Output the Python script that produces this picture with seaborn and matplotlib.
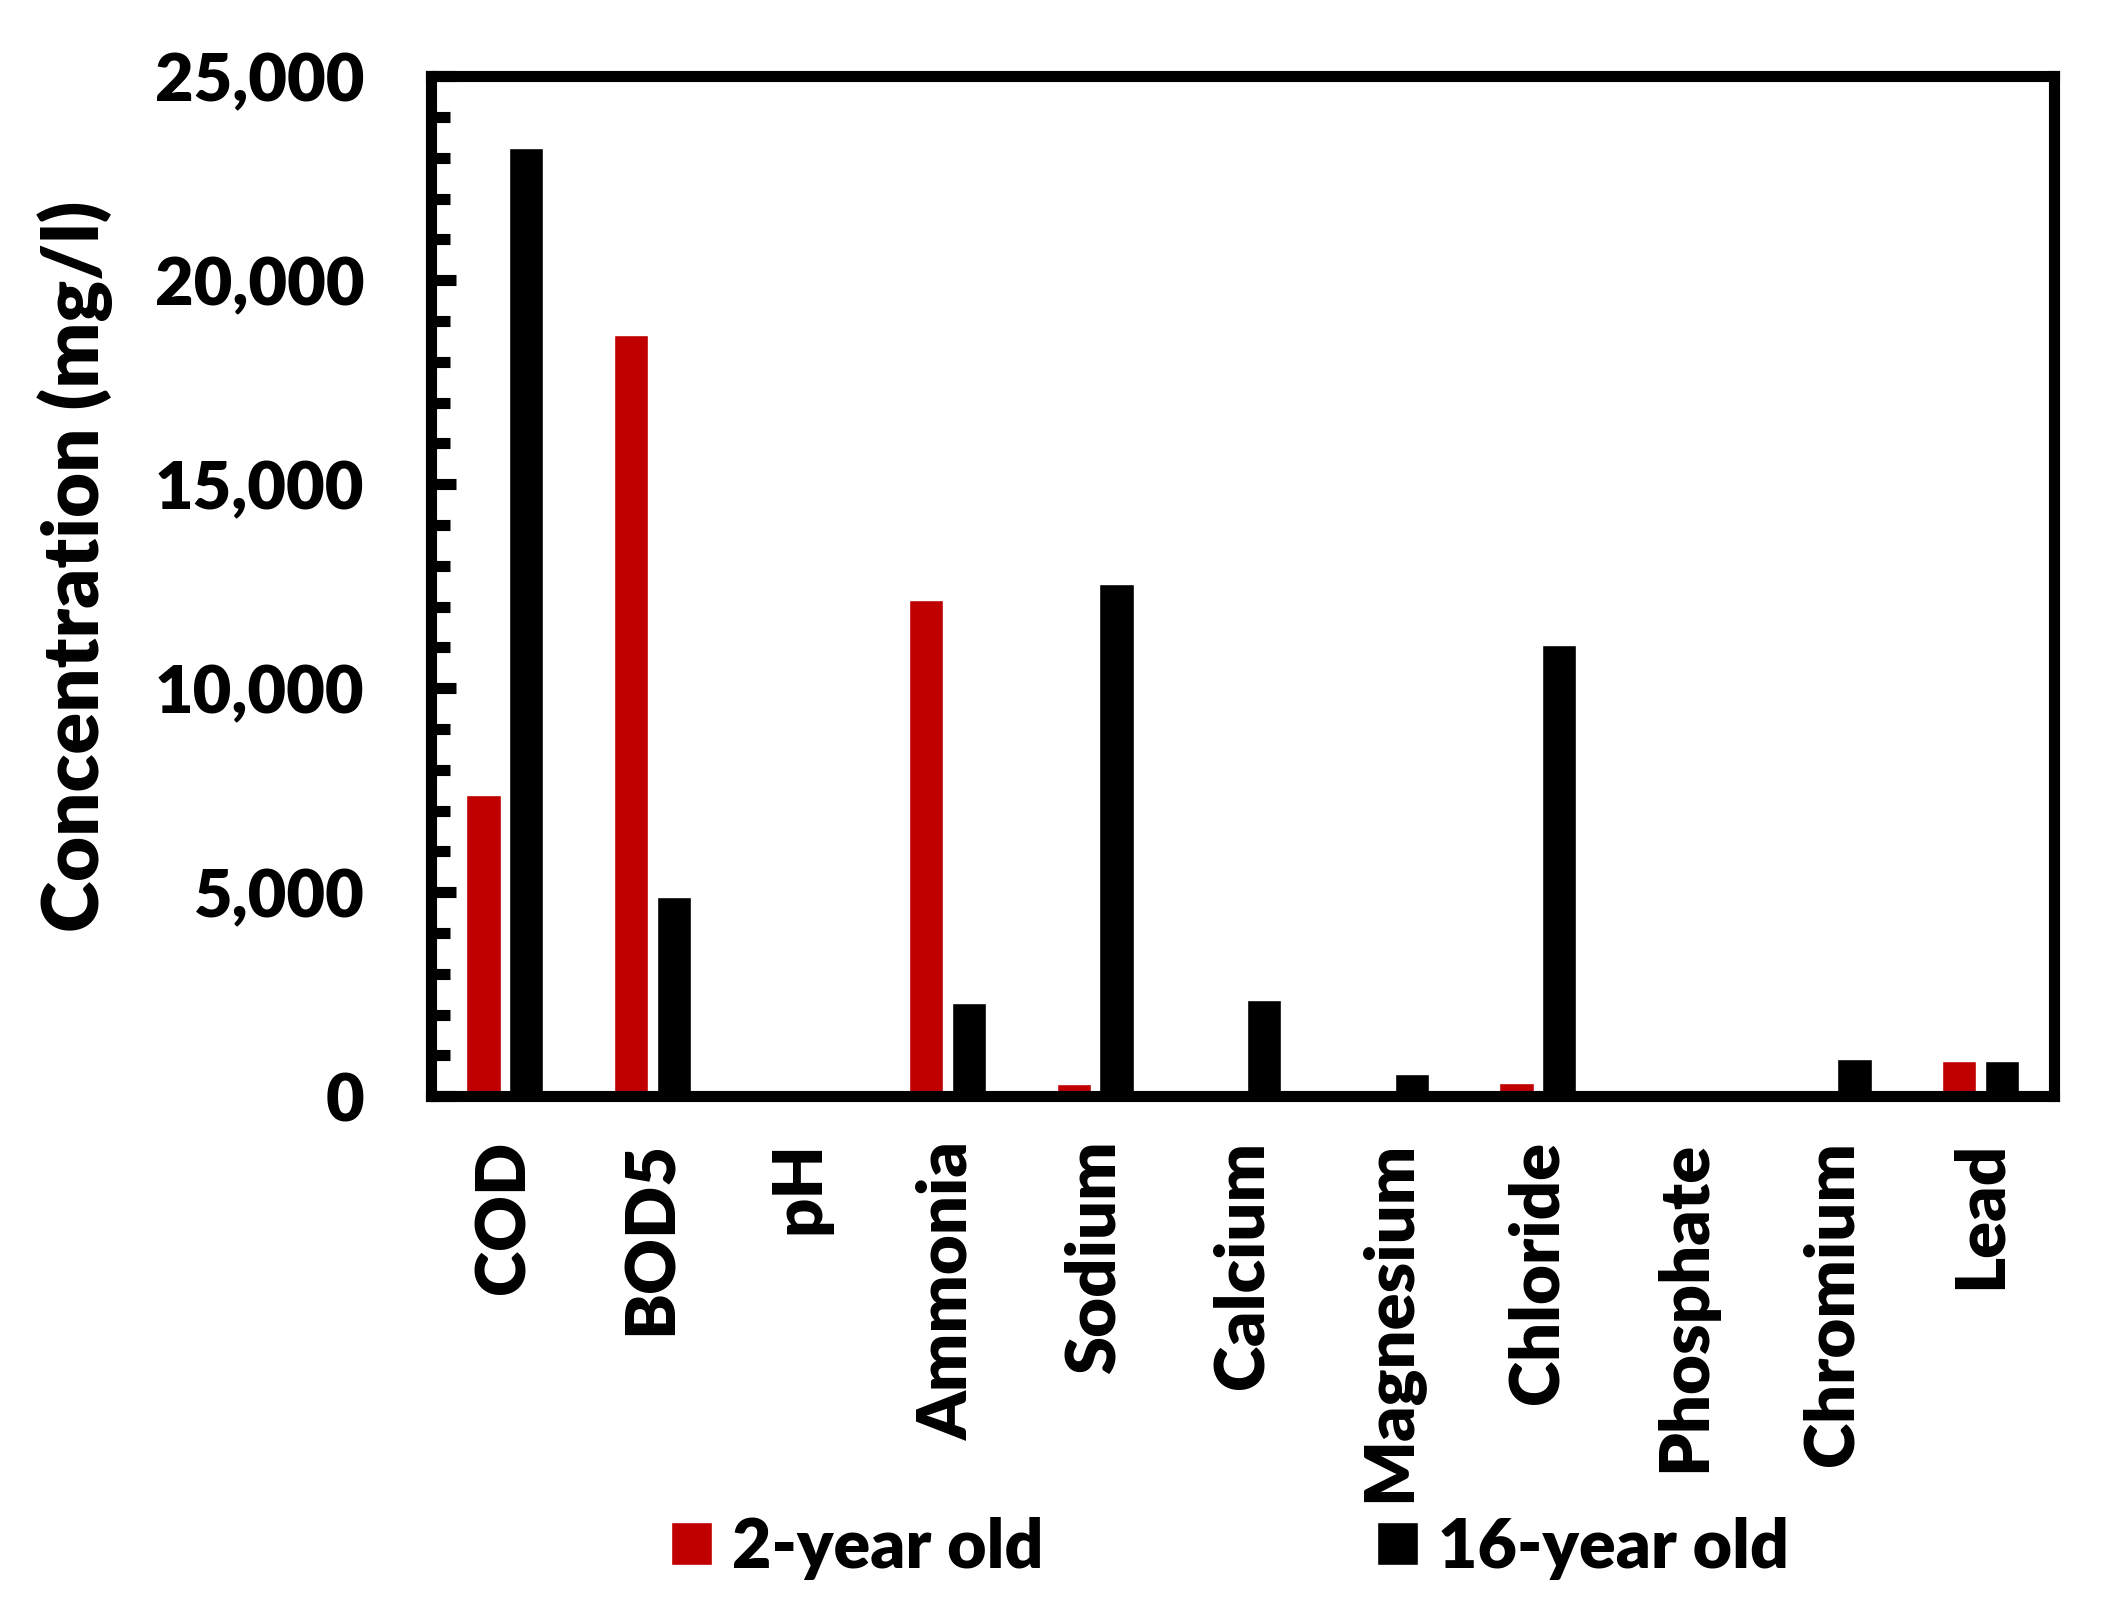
import matplotlib
matplotlib.use("Agg")
import matplotlib.pyplot as plt
from matplotlib.ticker import MultipleLocator, FuncFormatter
import seaborn as sns
import pandas as pd

categories = ["COD", "BOD5", "pH", "Ammonia", "Sodium", "Calcium", "Magnesium",
              "Chloride", "Phosphate", "Chromium", "Lead"]
two_year = [7390, 18650, 7.5, 12170, 310, 160, 80, 320, 15, 5, 860]
sixteen_year = [23250, 4890, 8.0, 2280, 12560, 2350, 540, 11070, 10, 905, 860]
series_names = ["2-year old", "16-year old"]
colors = ["#C00000", "#000000"]

df = pd.DataFrame({
    "Parameter": categories * 2,
    "Concentration": two_year + sixteen_year,
    "Age": [series_names[0]] * len(categories) + [series_names[1]] * len(categories),
})

sns.set_theme(style="white")
plt.rcParams["font.family"] = ["Lato", "DejaVu Sans"]
plt.rcParams["font.weight"] = "heavy"
for key in ["text.color", "axes.labelcolor", "xtick.color", "ytick.color"]:
    plt.rcParams[key] = "black"

W = "heavy"

fig = plt.figure(figsize=(21.08, 16.11), dpi=100)
ax = fig.add_axes([0.2045, 0.3195, 0.7701, 0.6332])

sns.barplot(data=df, x="Parameter", y="Concentration", hue="Age",
            palette=colors, width=0.58, gap=0.2, saturation=1,
            order=categories, hue_order=series_names, ax=ax, errorbar=None)

ax.set_ylim(0, 25000)
ax.set_xlim(-0.5, len(categories) - 0.5)
ax.yaxis.set_major_locator(MultipleLocator(5000))
ax.yaxis.set_minor_locator(MultipleLocator(1000))
ax.yaxis.set_major_formatter(FuncFormatter(lambda v, p: f"{int(v):,}"))

for s in ax.spines.values():
    s.set_visible(True)
    s.set_linewidth(8)
    s.set_color("black")
    s.set_capstyle("projecting")

ax.tick_params(axis="y", which="major", direction="in", length=18, width=8,
               pad=48, labelsize=48, left=True, color="black", labelcolor="black")
ax.tick_params(axis="y", which="minor", direction="in", length=13.5, width=8,
               left=True, color="black")
ax.tick_params(axis="x", which="both", length=0, pad=32, labelsize=49.5,
               labelcolor="black")
for lbl in ax.get_xticklabels():
    lbl.set_rotation(90)
    lbl.set_fontweight(W)
    lbl.set_va("top")
for lbl in ax.get_yticklabels():
    lbl.set_fontweight(W)

ax.set_xlabel("")
ax.set_ylabel("Concentration (mg/l)", fontsize=56, fontweight=W, color="black")
ax.yaxis.set_label_coords(-0.196, 0.52)

handles, labels = ax.get_legend_handles_labels()
if ax.get_legend() is not None:
    ax.get_legend().remove()
fig.legend(handles, labels, loc="center", bbox_to_anchor=(0.5835, 0.039), ncol=2,
           frameon=False, handlelength=0.6, handleheight=0.6, handletextpad=0.3,
           columnspacing=4.9, prop={"size": 49, "weight": W})

fig.savefig("out.png", dpi=100, facecolor="white")
